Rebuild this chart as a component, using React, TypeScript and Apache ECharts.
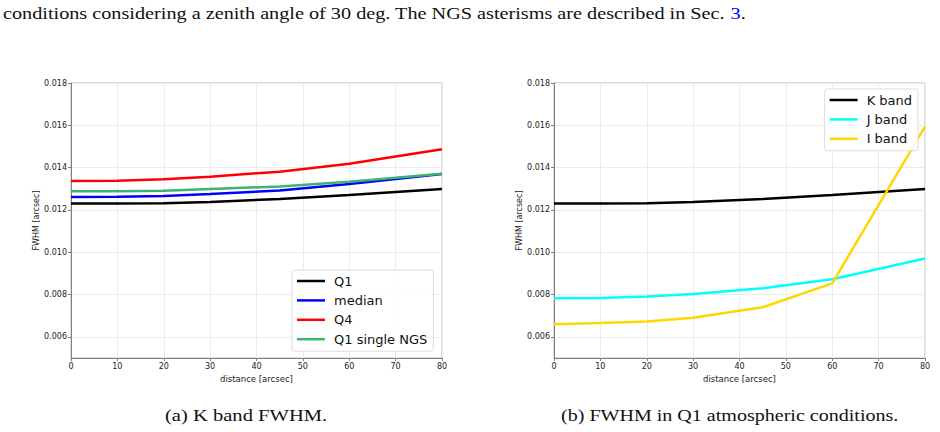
import React, { useEffect, useRef } from "react";
import * as echarts from "echarts";

const distances = [0, 10, 20, 30, 45, 60, 80];
const q1 = [0.0123, 0.0123, 0.01232, 0.01237, 0.01252, 0.01271, 0.01299];
const median = [0.01261, 0.01262, 0.01266, 0.01275, 0.01292, 0.01322, 0.0137];
const q4 = [0.01337, 0.01338, 0.01345, 0.01357, 0.01381, 0.01418, 0.01487];
const q1Single = [0.01288, 0.01288, 0.01291, 0.01299, 0.01311, 0.01333, 0.01371];

const kBand = [0.0123, 0.0123, 0.01232, 0.01237, 0.01252, 0.01271, 0.01299];
const jBand = [0.00782, 0.00784, 0.00791, 0.00803, 0.0083, 0.00872, 0.0097];
const iBand = [0.0066, 0.00665, 0.00673, 0.0069, 0.0074, 0.00853, 0.01594];

const xTicks = [0, 10, 20, 30, 40, 50, 60, 70, 80];

const FONT = "DejaVu Sans";
const SERIF = "Liberation Serif";

function pairs(vals: number[]) {
  return distances.map((d, i) => [d, vals[i]]);
}

function xAxis(gridIndex: number) {
  return {
    type: "value",
    gridIndex,
    min: xTicks[0],
    max: xTicks[xTicks.length - 1],
    interval: 10,
    name: "distance [arcsec]",
    nameLocation: "middle",
    nameGap: 11,
    nameTextStyle: { fontFamily: FONT, fontSize: 8.5, color: "#222" },
    axisLine: { show: true, lineStyle: { color: "#808080", width: 1 } },
    axisTick: { show: true, length: 3, lineStyle: { color: "#808080" } },
    axisLabel: { fontFamily: FONT, fontSize: 8, color: "#222", margin: 4 },
    splitLine: { show: true, lineStyle: { color: "#ebebeb", width: 1 } },
  };
}

function yAxis(gridIndex: number) {
  return {
    type: "value",
    gridIndex,
    min: 0.005,
    max: 0.018,
    splitNumber: 6,
    name: "FWHM [arcsec]",
    nameLocation: "middle",
    nameGap: 29,
    nameTextStyle: { fontFamily: FONT, fontSize: 8, color: "#222" },
    axisLine: { show: true, lineStyle: { color: "#808080", width: 1 } },
    axisTick: { show: true, length: 3, lineStyle: { color: "#808080" } },
    axisLabel: {
      fontFamily: FONT,
      fontSize: 8,
      color: "#222",
      margin: 4,
      showMinLabel: false,
      formatter: (v: number) => (Math.abs(v - 0.005) < 1e-9 ? "" : v.toFixed(3)),
    },
    splitLine: { show: true, lineStyle: { color: "#ebebeb", width: 1 } },
  };
}

function line(name: string, vals: number[], color: string, idx: number) {
  return {
    type: "line",
    name,
    xAxisIndex: idx,
    yAxisIndex: idx,
    data: pairs(vals),
    symbol: "none",
    smooth: false,
    lineStyle: { color, width: 2.5 },
    itemStyle: { color },
  };
}

const legendCommon = {
  orient: "vertical",
  backgroundColor: "rgba(255,255,255,0.85)",
  borderColor: "#dcdcdc",
  borderWidth: 1,
  borderRadius: 3,
  itemWidth: 28,
  itemHeight: 14,
  itemGap: 5.4,
  icon: "path://M0,6 L28,6 L28,8.5 L0,8.5 Z",
  textStyle: { fontFamily: FONT, fontSize: 13, lineHeight: 14, color: "#111", padding: [0, 0, 0, 4] },
};

export default function App() {
  const ref = useRef<HTMLDivElement>(null);
  useEffect(() => {
    const chart = echarts.init(ref.current!, undefined, { renderer: "svg" });
    chart.setOption({
      animation: false,
      backgroundColor: "#fff",
      grid: [
        { left: 71, top: 83, width: 371, height: 275, show: true, borderColor: "#bdbdbd", borderWidth: 1 },
        { left: 554, top: 83, width: 371, height: 275, show: true, borderColor: "#bdbdbd", borderWidth: 1 },
      ],
      xAxis: [xAxis(0), xAxis(1)],
      yAxis: [yAxis(0), yAxis(1)],
      legend: [
        {
          ...legendCommon,
          left: 292,
          top: 270,
          padding: [4, 6, 5, 5],
          data: ["Q1", "median", "Q4", "Q1 single NGS"],
        },
        {
          ...legendCommon,
          right: 22,
          top: 89,
          padding: [4, 6, 5, 5],
          data: ["K band", "J band", "I band"],
        },
      ],
      series: [
        line("Q1", q1, "#000000", 0),
        line("median", median, "#0000ff", 0),
        line("Q4", q4, "#ff0000", 0),
        line("Q1 single NGS", q1Single, "#3cb371", 0),
        line("K band", kBand, "#000000", 1),
        line("J band", jBand, "#00ffff", 1),
        line("I band", iBand, "#ffd700", 1),
      ],
      graphic: [
        {
          type: "text",
          x: 3,
          y: 13,
          scaleX: 1.19,
          style: {
            text: "{a|conditions considering a zenith angle of 30 deg. The NGS asterisms are described in Sec. }{b|3}{a|.}",
            verticalAlign: "middle",
            rich: {
              a: { fontFamily: SERIF, fontSize: 17, fill: "#111" },
              b: { fontFamily: SERIF, fontSize: 17, fill: "#0000ff" },
            },
          },
        },
        {
          type: "text",
          x: 165,
          y: 415,
          scaleX: 1.21,
          style: { text: "(a) K band FWHM.", fontFamily: SERIF, fontSize: 17, fill: "#111", verticalAlign: "middle" },
        },
        {
          type: "text",
          x: 561,
          y: 415,
          scaleX: 1.18,
          style: {
            text: "(b) FWHM in Q1 atmospheric conditions.",
            fontFamily: SERIF,
            fontSize: 17,
            fill: "#111",
            verticalAlign: "middle",
          },
        },
      ],
    });
    return () => chart.dispose();
  }, []);
  return (
    <div
      ref={ref}
      style={{ position: "fixed", left: 0, top: 0, width: 940, height: 432, background: "#fff" }}
    />
  );
}
